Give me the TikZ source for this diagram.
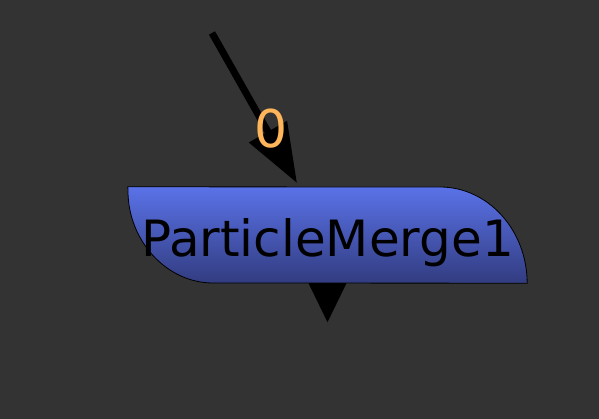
\documentclass[tikz,border=0pt]{standalone}
\usepackage{fontspec}
\setmainfont{DejaVu Sans}
\usetikzlibrary{arrows.meta}

\definecolor{bgGray}{HTML}{333333}
\definecolor{nodeTop}{HTML}{5A72E8}
\definecolor{nodeBottom}{HTML}{323C80}
\definecolor{portOrange}{HTML}{FFB65A}

\tikzset{
	nodebox/.style={rectangle, inner sep=0pt, minimum width=399pt, minimum height=96pt,
		text height=44pt, text depth=0pt, font=\fontsize{50}{50}\selectfont},
	portlabel/.style={text=portOrange, inner sep=0pt, font=\fontsize{52}{52}\selectfont},
	wire/.style={line width=7pt, -{Triangle[length=59pt, width=42pt]}}
}

\begin{document}
\begin{tikzpicture}[x=1pt, y=-1pt]
	\fill [bgGray] (0, 0) rectangle (599, 419);
	\useasboundingbox (0, 0) rectangle (599, 419);
	\node [nodebox] (merge) at (327.5, 235) {};
	% body of the node
	\shade [top color=nodeTop, bottom color=nodeBottom, draw=black, line width=0.8pt]
	(merge.north west) -- (440, 187) .. controls (488, 187) and (527, 230) .. (merge.south east)
	-- (213, 283) .. controls (166, 283) and (128, 240) .. (128, 191) -- cycle;
	\node [nodebox] at (merge.center) {ParticleMerge1};
	% output port
	\fill ([xshift=-19pt]merge.south) -- ([xshift=19pt]merge.south) -- ([yshift=-39pt]merge.south) -- cycle;
	% input wire
	\coordinate (source) at (212, 33);
	\coordinate (inport) at (297, 183);
	\draw [wire] (source) -- (inport);
	\node [portlabel] (inlabel) at (271, 129) {0};
\end{tikzpicture}
\end{document}
